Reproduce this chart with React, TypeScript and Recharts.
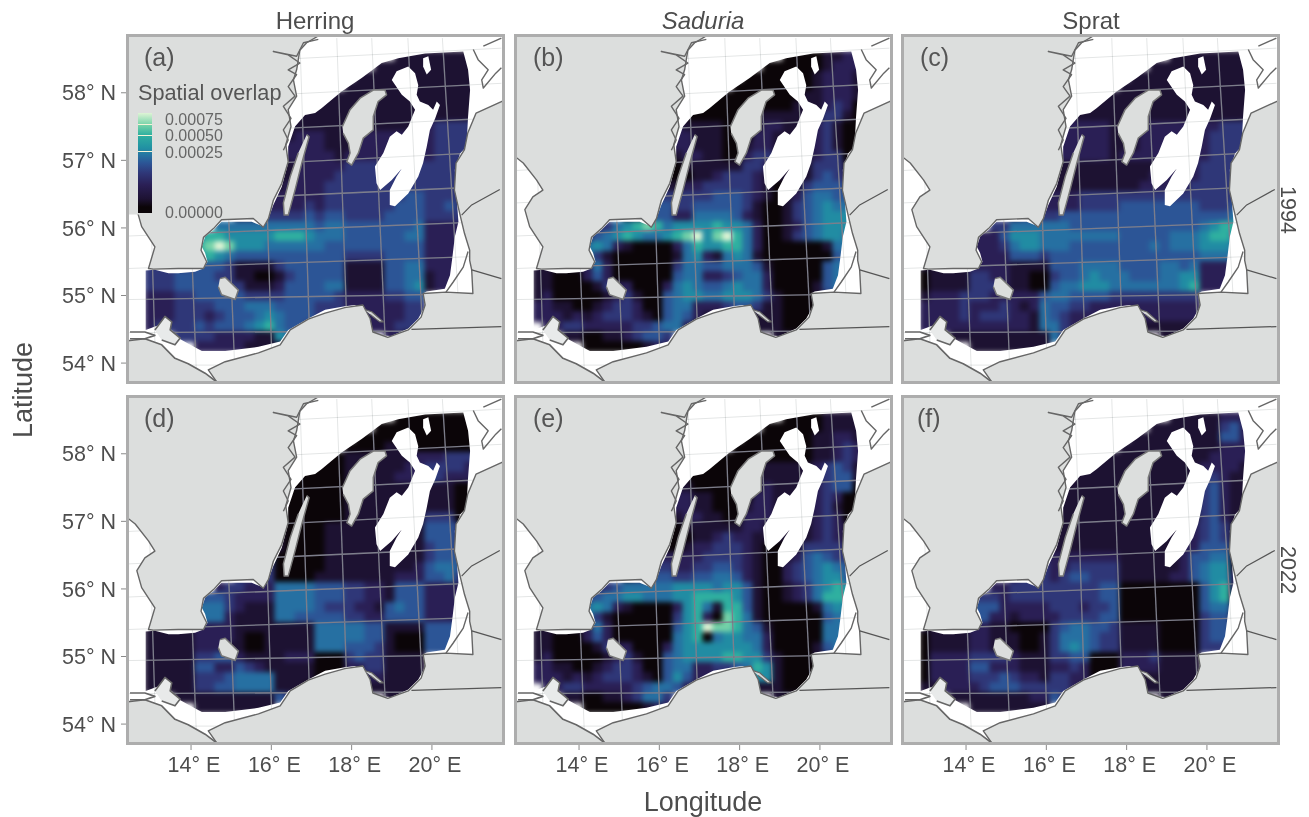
import React from 'react';
import { ScatterChart, Scatter, XAxis, YAxis } from 'recharts';

type Pt = [number, number];

// Overlap level (index) -> colour on the legend's scale
const levelColors = ['#0b0508', '#1d1232', '#2a1f55', '#2f3778', '#2c5596', '#2670a2', '#218ca3', '#2fb0a0', '#74d2a8', '#def4d5'];

const firstLon = 12.979;
const lonStep = 0.249;
const firstLat = 58.538;
const latStep = 0.14815;

const lonTicks = [14, 16, 18, 20];
const latTicks = [54, 55, 56, 57, 58];
const lonDomain: Pt = [12.43, 21.77];
const latDomain: Pt = [53.72, 58.84];

const herring1994 = [
". .... .... .... .... ... .... .111 1111 1",
". .... .... .... .... ... ...1 1111 1111 1",
". .... .... .... .... ... .111 1111 1111 1",
". .... .... .... .... ... 1111 1111 1111 1",
". .... .... .... ..11 111 1111 1111 1111 1",
". .... .... .... .111 111 1111 1111 1111 1",
". .... .... .... 1111 111 1111 1111 1111 1",
". .... .... ...1 1111 111 1111 1111 2333 3",
". .... .... ..11 1122 211 1222 2222 2333 3",
". .... .... ..11 1222 211 1222 2222 2333 3",
". .... .... ..11 1222 221 2222 2222 2333 .",
". .... .... ..11 1122 222 3333 3333 3333 .",
". .... .... ..11 1122 223 3333 3333 3333 .",
". .... .... .111 1222 233 3333 3333 3333 .",
". .... .... .122 2222 233 3333 3344 3333 .",
". .... .... 1222 2223 233 3333 3444 3343 .",
". .... .... 2223 3334 344 3333 4444 3333 .",
". .... ..55 5555 5555 455 4444 4445 2222 .",
". .... 6776 6666 7776 555 4444 4455 2222 .",
". .... 7898 6665 5555 544 4444 4444 2222 .",
". .... 6765 4444 4444 444 3333 4444 2222 .",
"3 3333 4443 1111 3444 444 1111 4455 2222 .",
"3 3344 4433 1100 1344 444 1111 4455 1222 .",
"3 3344 4443 3111 2444 455 1111 4456 1222 .",
"2 2233 4444 4333 3444 443 2222 3344 .... .",
"2 2233 3344 4555 4444 333 2222 2233 .... .",
"2 2233 3234 4456 5444 333 2222 2233 .... .",
"2 3333 4344 4567 5443 333 2222 2333 .... .",
". ..33 3322 2211 6555 ... .... 2200 .... .",
". .... 2222 2111 1... ... .... .... .... .",
];

const saduria1994 = [
". .... .... .... .... ... .... .000 0112 2",
". .... .... .... .... ... ...0 0000 0122 2",
". .... .... .... .... ... .000 0000 1222 1",
". .... .... .... .... ... 0000 0000 1222 1",
". .... .... .... ..00 000 0000 0001 1222 1",
". .... .... .... .000 000 0000 0011 1232 0",
". .... .... .... 1000 000 0011 1111 1331 0",
". .... .... ...0 2211 110 0012 2111 2310 0",
". .... .... ..00 2221 110 0022 1111 2310 0",
". .... .... ..00 1221 110 0122 1111 2310 0",
". .... .... ..00 0122 110 0233 1111 2330 .",
". .... .... ..00 0011 111 1332 1111 3331 .",
". .... .... ..00 0001 123 3321 1111 3432 .",
". .... .... .000 1122 333 3321 0013 4443 .",
". .... .... .003 3333 344 4321 0124 5544 .",
". .... .... 0134 4334 444 4310 0134 5655 .",
". .... .... 1244 4225 555 4210 0134 5666 .",
". .... .235 6787 5666 676 6520 0124 5666 .",
". ...3 2456 7655 6789 689 7520 0134 5665 .",
". ...3 5652 1000 0257 667 7520 0000 0155 .",
". ...4 6310 0000 0156 215 6510 0000 0045 .",
"1 1111 2520 0000 0355 445 5541 0000 0455 .",
"1 1000 2420 0000 0455 223 4552 0000 0455 .",
"1 1000 0132 2000 2565 445 6552 0000 1454 .",
"1 2000 0012 3100 4566 556 6653 1000 1233 .",
"2 2110 0123 3200 4552 223 4431 1000 0011 .",
"2 2212 1233 3210 4542 111 1111 1000 0011 .",
". 2233 2222 2334 5521 ... 1111 1000 0111 .",
". ..11 0011 2344 3... ... .... 1111 .... .",
". .... 0000 0012 2... ... .... .... .... .",
];

const sprat1994 = [
". .... .... .... .... ... .... .111 1111 1",
". .... .... .... .... ... ...1 1111 1111 1",
". .... .... .... .... ... .111 1111 1111 1",
". .... .... .... .... ... 1111 1111 1111 1",
". .... .... .... ..11 111 1111 1111 1111 1",
". .... .... .... .111 111 1111 1111 1111 1",
". .... .... .... 1111 111 1111 1111 1111 1",
". .... .... ...1 2222 221 1122 2222 2233 3",
". .... .... ..11 2222 221 1122 2222 2333 3",
". .... .... ..11 2222 221 1122 2222 2333 3",
". .... .... ..11 2222 221 2222 2222 2333 .",
". .... .... ..11 1111 111 1111 1122 3333 .",
". .... .... ..11 1111 111 1112 2222 3333 .",
". .... .... .111 1111 111 1122 2223 3333 .",
". .... .... .222 2223 333 3333 3333 3333 .",
". .... .... 2222 2223 333 4444 4444 3334 .",
". .... .... 2333 3444 444 4444 4444 4445 .",
". .... ..33 5555 5544 444 4444 4444 5677 .",
". ...2 2224 6665 5555 555 4444 4555 6776 .",
". ...2 2223 5665 5544 444 4445 4555 6665 .",
". ...2 2222 4443 4444 444 4444 4444 5555 .",
"1 1111 2222 1111 4445 555 4444 5545 2222 .",
"0 1111 3322 1100 3445 655 5444 5566 2222 .",
"0 1111 3332 1100 4556 665 5555 5567 2222 .",
"1 2223 3322 2224 5544 443 3333 3333 .... .",
"2 2223 2223 2125 4433 222 2222 2222 .... .",
"2 2223 2333 2215 4322 222 2222 2222 .... .",
"2 2222 2222 2215 5322 ... 1111 1111 .... .",
". ..11 1111 1111 53.. ... .... 1111 .... .",
". .... 1111 1111 .... ... .... .... .... .",
];

const herring2022 = [
". .... .... .... .... ... .... .000 0000 0",
". .... .... .... .... ... ...0 0000 0000 0",
". .... .... .... .... ... .000 0000 0000 0",
". .... .... .... .... ... 0000 1110 0000 0",
". .... .... .... ..00 000 1111 1112 2233 3",
". .... .... .... .000 000 1111 1122 3333 2",
". .... .... .... 0000 000 1111 1222 4322 2",
". .... .... ...0 0000 000 1111 1111 1110 0",
". .... .... ..00 0000 000 1111 1111 1110 0",
". .... .... ..00 0000 000 1111 1111 1110 0",
". .... .... ..01 0000 000 1111 1111 3330 .",
". .... .... ..11 1000 011 1111 1111 4443 .",
". .... .... ..12 1000 011 1111 1111 4443 .",
". .... .... .122 1000 011 1111 1111 3443 .",
". .... .... .344 0000 011 1111 1111 3444 .",
". .... .... 3343 0000 011 1111 1112 4554 .",
". .... .... 3333 0000 111 1111 1222 4453 .",
". .... ..23 3222 5555 444 3322 1444 2222 .",
". ...3 3443 2222 5555 444 3322 1444 2222 .",
". ...3 5553 2111 5555 433 3221 4544 2222 .",
". ...3 5552 1111 5544 444 3322 4444 2222 .",
"1 1111 2222 1111 1111 555 5544 1111 4444 .",
"1 1111 2222 1001 1111 555 5544 1000 4444 .",
"1 1111 2221 1001 1111 555 4443 1000 4443 .",
"1 1111 3344 2111 1222 000 3433 1111 .... .",
"1 1111 4422 4321 1111 000 2233 1111 .... .",
"1 1111 3334 5555 1111 000 1122 1111 .... .",
"1 1111 3344 5555 1110 ... 1111 1111 .... .",
". ..11 1111 1111 43.. ... .... 1111 .... .",
". .... 1111 1111 .... ... .... .... .... .",
];

const saduria2022 = [
". .... .... .... .... ... .... .000 0111 1",
". .... .... .... .... ... ...0 0000 0111 1",
". .... .... .... .... ... .000 0000 1122 1",
". .... .... .... .... ... 0000 0000 1123 2",
". .... .... .... ..00 000 0000 0000 1123 2",
". .... .... .... .000 000 0011 1111 2343 1",
". .... .... .... 1000 000 0011 1111 2344 1",
". .... .... ...0 1110 000 0012 1111 2344 0",
". .... .... ..00 2221 100 0022 1111 2320 0",
". .... .... ..00 1221 100 0122 1111 2310 0",
". .... .... ..00 0122 110 0222 1111 2320 .",
". .... .... ..00 0011 111 1221 1111 2321 .",
". .... .... ..00 0001 123 2211 1111 2321 .",
". .... .... .000 0012 233 3210 0013 3332 .",
". .... .... .002 2222 333 3210 0124 5433 .",
". .... .... 0123 3223 344 3210 0234 5654 .",
". .... .... 1234 4334 455 4210 0234 5664 .",
". .... .234 5555 5666 656 6410 0123 5676 .",
". ...3 3455 6655 5667 777 6410 0123 5777 .",
". ...3 5652 1000 0267 517 7410 0000 1565 .",
". ...4 6310 0000 0367 208 7510 0000 0455 .",
"1 1111 2520 0000 0467 988 7541 0000 0555 .",
"1 1000 2420 0000 0567 056 6552 0000 0555 .",
"1 1000 0132 2000 2566 666 6652 0000 1454 .",
"1 2000 0012 3100 4566 667 7663 1000 1233 .",
"2 2110 0123 3200 4552 233 4576 1000 0112 .",
"2 2212 1233 3210 4642 211 1266 1000 0011 .",
". 2233 2222 2345 5421 ... 1111 1000 0111 .",
". ..11 0011 2355 3... ... .... 1111 .... .",
". .... 0000 0012 2... ... .... .... .... .",
];

const sprat2022 = [
". .... .... .... .... ... .... .111 1122 2",
". .... .... .... .... ... ...1 1111 1134 2",
". .... .... .... .... ... .111 1111 1144 2",
". .... .... .... .... ... 1111 1111 1122 2",
". .... .... .... ..11 111 1111 1111 1222 2",
". .... .... .... .111 111 1111 1111 2222 1",
". .... .... .... 1111 111 1111 1111 3321 1",
". .... .... ...1 1111 111 1111 1111 3421 1",
". .... .... ..11 1111 111 1111 1111 3421 1",
". .... .... ..11 1111 111 1111 1111 3421 1",
". .... .... ..11 1111 111 1111 1111 3421 .",
". .... .... ..11 1111 111 1111 1112 3431 .",
". .... .... ..11 1111 111 1111 1112 3431 .",
". .... .... .111 1111 111 1111 1122 4441 .",
". .... .... .222 2222 222 1111 1124 4551 .",
". .... .... 2223 2233 333 1111 1124 5661 .",
". .... .... 2333 2344 333 1111 1224 5662 .",
". .... ..22 3333 3333 344 0000 0000 4672 .",
". ...3 3332 3333 3333 344 0000 0000 4671 .",
". ...3 4442 2222 3332 334 0000 0000 4552 .",
". ...3 4422 1222 2333 344 0000 0000 3441 .",
"1 1111 2211 0000 3455 443 1111 0000 3441 .",
"0 1111 2211 1001 3555 433 1111 0000 3441 .",
"0 1111 2211 1001 3565 433 1111 0000 3331 .",
"0 2222 3333 2111 3344 000 2223 1111 .... .",
"0 2222 4422 2111 2232 000 2222 1111 .... .",
"0 2222 3334 3221 3322 000 2211 1111 .... .",
"1 1222 2344 4333 3321 ... 1111 1111 .... .",
". ..11 1111 1122 43.. ... .... 1111 .... .",
". .... 1111 1111 .... ... .... .... .... .",
];

// Geography in degrees
const modelEdge: Pt[] = [
  [20.78,58.61],[20.90,58.34],[20.95,58.04],[20.90,57.65],[20.86,57.20],[20.70,57.10],[20.57,56.86],[20.60,56.56],[20.66,56.09],
  [20.57,55.87],[20.51,55.57],[20.45,55.30],[20.32,55.10],[19.87,55.06],[19.78,55.03],[19.83,54.84],[19.66,54.66],[19.41,54.51],
  [18.99,54.40],[18.66,54.41],[18.50,54.49],[18.46,54.64],[18.33,54.79],[18.08,54.86],[17.83,54.84],[17.34,54.79],[16.92,54.66],
  [16.42,54.49],[16.22,54.32],[15.68,54.24],[14.85,54.18],[14.27,54.18],[13.98,54.27],[13.68,54.37],[13.52,54.49],[13.19,54.56],
  [12.87,54.49],[12.87,55.37],[13.10,55.38],[13.44,55.33],[13.68,55.33],[14.10,55.35],[14.31,55.40],[14.41,55.50],[14.35,55.63],
  [14.27,55.72],[14.35,55.87],[14.56,55.97],[14.76,56.09],[15.51,56.09],[15.80,56.02],[15.93,56.14],[16.05,56.34],[16.26,56.61],
  [16.42,56.96],[16.42,57.20],[16.59,57.50],[16.84,57.67],[17.09,57.70],[17.25,57.77],[17.75,58.02],[18.25,58.22],[18.75,58.44],
  [19.16,58.51],[19.83,58.58],
];
const gotlandHole: Pt[] = [
  [19.00,58.19],[19.12,58.32],[19.41,58.39],[19.58,58.29],[19.66,58.11],[19.62,57.97],[19.70,57.87],[19.91,57.82],[20.03,57.75],
  [20.12,57.87],[20.20,57.82],[20.08,57.62],[19.95,57.45],[19.87,57.20],[19.78,56.96],[19.66,56.76],[19.41,56.51],[19.08,56.32],
  [18.95,56.34],[18.95,56.56],[19.12,56.76],[19.25,56.88],[19.00,56.71],[18.71,56.56],[18.62,56.66],[18.58,56.91],[18.79,57.11],
  [18.95,57.35],[19.12,57.43],[19.25,57.38],[19.41,57.50],[19.58,57.75],[19.45,57.87],[19.25,57.97],[19.08,58.12],
];
const northHole: Pt[] = [[19.78,58.51],[19.91,58.54],[19.98,58.34],[19.87,58.27],[19.78,58.39]];

const sweden: Pt[] = [
  [12.43,58.84],[17.17,58.84],[16.88,58.74],[16.71,58.63],[16.63,58.34],[16.55,58.19],[16.63,57.95],[16.42,57.75],[16.49,57.50],
  [16.36,57.23],[16.42,56.98],[16.26,56.66],[16.05,56.41],[15.93,56.14],[15.80,56.01],[15.55,56.14],[14.76,56.12],[14.56,55.99],
  [14.31,55.86],[14.25,55.67],[14.39,55.50],[14.31,55.40],[13.68,55.40],[13.06,55.39],[12.94,55.40],[13.10,55.72],[12.77,56.02],
  [12.65,56.27],[12.85,56.46],[13.10,56.56],[12.94,56.71],[12.61,56.96],[12.46,57.03],[12.43,57.03],
];
const southEastLand: Pt[] = [
  [14.64,53.72],[14.43,53.90],[14.85,54.02],[15.68,54.15],[16.22,54.27],[16.47,54.49],[16.92,54.65],[17.34,54.74],[17.83,54.82],
  [18.28,54.86],[18.46,54.66],[18.53,54.46],[18.90,54.38],[19.41,54.49],[19.73,54.68],[19.83,54.86],[19.78,55.03],[20.35,55.05],
  [21.02,55.03],[20.99,55.38],[20.94,55.52],[20.94,55.67],[20.81,55.92],[20.69,56.22],[20.56,56.56],[20.60,56.96],[20.81,57.16],
  [20.89,57.40],[21.10,57.70],[21.73,57.87],[21.77,57.87],[21.77,53.72],
];
const southWestLand: Pt[] = [
  [12.43,54.33],[12.85,54.36],[13.27,54.27],[13.60,54.07],[13.93,53.99],[14.35,53.85],[14.64,53.72],[12.43,53.72],
];
const legendPatch: Pt[] = [[12.43,57.4],[13.5,57.4],[13.5,56.2],[12.43,56.2]];
const gotland: Pt[] = [
  [17.77,57.50],[17.96,57.75],[18.21,57.92],[18.54,58.04],[18.83,58.04],[18.87,57.97],[18.66,57.87],[18.54,57.65],[18.54,57.45],
  [18.29,57.33],[18.17,57.11],[18.00,56.93],[17.88,56.98],[17.96,57.11],[17.92,57.25],[17.79,57.40],
];
const oland: Pt[] = [
  [16.88,57.38],[16.94,57.35],[16.76,56.96],[16.59,56.56],[16.42,56.19],[16.32,56.19],[16.30,56.37],[16.47,56.76],[16.67,57.11],
];
const bornholm: Pt[] = [[14.72,55.25],[14.85,55.27],[15.18,55.08],[15.10,54.94],[14.76,55.01],[14.68,55.13]];
const rugen: Pt[] = [[13.10,54.49],[13.35,54.69],[13.52,54.61],[13.48,54.49],[13.73,54.37],[13.60,54.27],[13.27,54.34]];
const usedom: Pt[] = [[12.48,54.46],[12.85,54.46],[13.10,54.41],[12.85,54.36],[12.48,54.36]];
const helPeninsula: Pt[] = [[18.33,54.79],[18.50,54.76],[18.79,54.61],[18.70,54.61],[18.46,54.72]];

const coastLines: Pt[][] = [
  [[17.17,58.79],[16.80,58.74],[16.63,58.54],[16.05,58.61],[16.42,58.56],[16.71,58.44],[16.42,58.34],[16.63,58.27],[16.42,58.09],[16.59,57.95],[16.30,57.80],[16.49,57.62],[16.30,57.45],[16.42,57.30],[16.30,57.15]],
  [[20.90,55.65],[20.78,55.42],[20.53,55.20],[20.35,55.05]],
  [[21.03,58.64],[21.15,58.49],[21.40,58.34],[21.24,58.19],[21.28,58.07],[21.59,58.29],[21.73,58.37]],
  [[21.28,58.69],[21.73,58.81]],
];
const borderLines: Pt[][] = [
  [[19.49,54.50],[21.73,54.54]],
  [[20.74,56.19],[20.99,56.34],[21.69,56.57]],
  [[20.99,55.38],[21.73,55.25]],
];

const meridians: Pt[][] = [
  [[12.86,58.81],[13.13,53.75]],[[13.81,58.81],[14.14,53.75]],[[14.76,58.81],[15.10,53.75]],
  [[15.76,58.81],[16.03,53.75]],[[16.71,58.81],[16.99,53.75]],[[17.63,58.81],[17.93,53.75]],
  [[18.50,58.81],[18.88,53.75]],[[19.40,58.81],[19.83,53.75]],[[20.26,58.81],[20.78,53.75]],
];
const parallels: Pt[][] = [
  [[12.44,58.38],[21.73,58.66]],[[12.44,57.86],[21.73,58.14]],[[12.44,57.36],[21.73,57.63]],
  [[12.44,56.85],[21.73,57.13]],[[12.44,56.37],[21.73,56.62]],[[12.44,55.88],[21.73,56.10]],
  [[12.44,55.40],[21.73,55.59]],[[12.44,54.94],[21.73,55.03]],[[12.44,54.45],[21.73,54.48]],
  [[12.44,53.97],[21.73,53.97]],
];
const graticule = [...meridians, ...parallels];

const panels = [
  { tag: '(a)', rows: herring1994, col: 0, row: 0, tagX: 144 },
  { tag: '(b)', rows: saduria1994, col: 1, row: 0, tagX: 533 },
  { tag: '(c)', rows: sprat1994, col: 2, row: 0, tagX: 920 },
  { tag: '(d)', rows: herring2022, col: 0, row: 1, tagX: 144 },
  { tag: '(e)', rows: saduria2022, col: 1, row: 1, tagX: 533 },
  { tag: '(f)', rows: sprat2022, col: 2, row: 1, tagX: 917 },
];
const colLeft = [128, 516, 903];
const rowTop = [36, 397];
const plotW = 375;
const plotH = 346;

const FONT = '"Liberation Sans", Arial, sans-serif';
const TXT = '#4d4d4d';

const toPts = (line: Pt[]) => line.map(([lon, lat]) => ({ lon, lat }));
const cells = (rows: string[]) => {
  const out: { lon: number; lat: number; level: number }[] = [];
  rows.forEach((r, i) => {
    r.replace(/ /g, '').split('').forEach((ch, j) => {
      if (ch !== '.') out.push({ lon: firstLon + j * lonStep, lat: firstLat - i * latStep, level: Number(ch) });
    });
  });
  return out;
};

const noDot = () => <g />;
const cellShape = (p: any) => (
  <rect x={p.cx - 5.6} y={p.cy - 5.6} width={11.2} height={11.2} fill={levelColors[p.payload.level]} />
);

const poly = (key: string, line: Pt[], fill: string, stroke: string, w: number, className?: string) => (
  <Scatter
    key={key}
    className={className}
    data={toPts(line)}
    shape={noDot}
    line={{ fill, stroke, strokeWidth: w, strokeLinejoin: 'round' }}
    isAnimationActive={false}
    legendType="none"
  />
);

const corner = { tl: [12.43, 58.84] as Pt, tr: [21.77, 58.84] as Pt, br: [21.77, 53.72] as Pt, bl: [12.43, 53.72] as Pt };
const seaMask: Pt[] = [
  corner.tl, corner.tr, corner.br, corner.bl, corner.tl,
  ...[...modelEdge, modelEdge[0]].reverse(),
  corner.tl,
];

function Panel({ rows, col, row }: { rows: string[]; col: number; row: number }) {
  const yW = col === 0 ? 80 : 0;
  const xH = row === 1 ? 44 : 0;
  return (
    <div style={{ position: 'absolute', left: colLeft[col] - yW, top: rowTop[row] }}>
      <ScatterChart width={plotW + yW} height={plotH + xH} margin={{ top: 0, right: 0, bottom: 0, left: 0 }}>
        <XAxis
          type="number"
          dataKey="lon"
          domain={lonDomain}
          allowDataOverflow
          ticks={lonTicks}
          hide={row !== 1}
          height={xH}
          tickSize={7}
          tickMargin={7}
          axisLine={false}
          stroke="#8a8a8a"
          tick={{ fill: TXT, fontSize: 21.5, fontFamily: FONT, dx: 3 }}
          tickFormatter={(v: number) => `${v}° E`}
          interval={0}
        />
        <YAxis
          type="number"
          dataKey="lat"
          domain={latDomain}
          allowDataOverflow
          ticks={latTicks}
          hide={col !== 0}
          width={yW}
          tickSize={7}
          tickMargin={5}
          axisLine={false}
          stroke="#8a8a8a"
          tick={{ fill: TXT, fontSize: 21.5, fontFamily: FONT }}
          tickFormatter={(v: number) => `${v}° N`}
          interval={0}
        />
        <Scatter className="overlap-cells" data={cells(rows)} shape={cellShape} isAnimationActive={false} legendType="none" />
        {graticule.map((g, i) => poly(`s${i}`, g, 'none', '#8a8a98', 1.3))}
        {poly('mask', seaMask, '#ffffff', 'none', 0)}
        {poly('h1', gotlandHole, '#ffffff', 'none', 0)}
        {poly('h2', northHole, '#ffffff', 'none', 0)}
        {graticule.map((g, i) => poly(`f${i}`, g, 'none', '#e4e6e6', 1, 'faint-line'))}
        {poly('se', southEastLand, '#dcdedd', '#666', 1.4)}
        {poly('sw', southWestLand, '#dcdedd', '#666', 1.6)}
        {poly('sweden', sweden, '#dcdedd', '#666', 1.4)}
        {col === 0 && row === 0 ? poly('lp', legendPatch, '#dcdedd', 'none', 0) : null}
        {poly('gotland', gotland, '#dcdedd', '#777', 1.5)}
        {poly('oland', oland, '#dcdedd', '#777', 1.5)}
        {poly('bornholm', bornholm, '#dcdedd', '#777', 1.5)}
        {poly('rugen', rugen, '#e8eaea', '#666', 1.6)}
        {poly('usedom', usedom, '#ffffff', '#666', 1.6)}
        {poly('hel', helPeninsula, '#d4d6d6', '#666', 1.2)}
        {coastLines.map((g, i) => poly(`c${i}`, g, 'none', '#666', 1.4))}
        {borderLines.map((g, i) => poly(`b${i}`, g, 'none', '#555', 1.2))}
      </ScatterChart>
    </div>
  );
}

const label = (text: string, cx: number, cy: number, size: number, extra: React.CSSProperties = {}, rotate = 0) => (
  <div
    key={text}
    style={{
      position: 'absolute', left: cx - 150, top: cy - 20, width: 300, height: 40, lineHeight: '40px',
      textAlign: 'center', fontFamily: FONT, fontSize: size, color: TXT,
      transform: rotate ? `rotate(${rotate}deg)` : undefined, ...extra,
    }}
  >
    {text}
  </div>
);

const legendLabels = [
  { t: '0.00075', y: 120 },
  { t: '0.00050', y: 136 },
  { t: '0.00025', y: 153 },
  { t: '0.00000', y: 213 },
];
const legendTickY = [124, 135, 151];

export default function App() {
  return (
    <div style={{ position: 'absolute', left: 0, top: 0, width: 1309, height: 817, background: '#fff', overflow: 'hidden' }}>
      <style>{`.overlap-cells{filter:blur(2.4px)} .faint-line{mix-blend-mode:multiply} svg{overflow:visible}`}</style>
      {panels.map((p) => <Panel key={p.tag} rows={p.rows} col={p.col} row={p.row} />)}
      {panels.map((p) => (
        <React.Fragment key={p.tag}>
          <div style={{ position: 'absolute', left: colLeft[p.col] - 2, top: rowTop[p.row] - 2, width: plotW + 4, height: plotH + 4, boxSizing: 'border-box', border: '3px solid #adadad' }} />
          <div style={{ position: 'absolute', left: p.tagX, top: rowTop[p.row] + 4, fontFamily: FONT, fontSize: 25, lineHeight: '34px', color: '#555' }}>{p.tag}</div>
        </React.Fragment>
      ))}

      <div style={{ position: 'absolute', left: 138, top: 81, fontFamily: FONT, fontSize: 21.7, lineHeight: '24px', color: '#555', whiteSpace: 'nowrap' }}>Spatial overlap</div>
      <div style={{ position: 'absolute', left: 138, top: 113, width: 14, height: 100, background: 'linear-gradient(to top,#0b0508 0%,#0b0508 6%,#1d1232 14%,#2a1f55 28%,#2f3778 40%,#2c5596 50%,#2675a2 58%,#2191a3 65%,#2fb0a0 78%,#74d2a8 88%,#def4d5 100%)' }} />
      {legendTickY.map((y) => <div key={y} style={{ position: 'absolute', left: 138, top: y, width: 14, height: 1, background: '#f4f4d8' }} />)}
      {legendLabels.map((l) => (
        <div key={l.t} style={{ position: 'absolute', left: 165, top: l.y - 7, fontFamily: FONT, fontSize: 16, lineHeight: '14px', color: '#666' }}>{l.t}</div>
      ))}

      {label('Herring', 315, 21, 24)}
      {label('Saduria', 703, 21, 24, { fontStyle: 'italic' })}
      {label('Sprat', 1091, 21, 24)}
      {label('Longitude', 703, 802, 27)}
      {label('Latitude', 23, 390, 27, {}, -90)}
      {label('1994', 1288, 210, 21.5, {}, 90)}
      {label('2022', 1288, 570, 21.5, {}, 90)}
    </div>
  );
}
